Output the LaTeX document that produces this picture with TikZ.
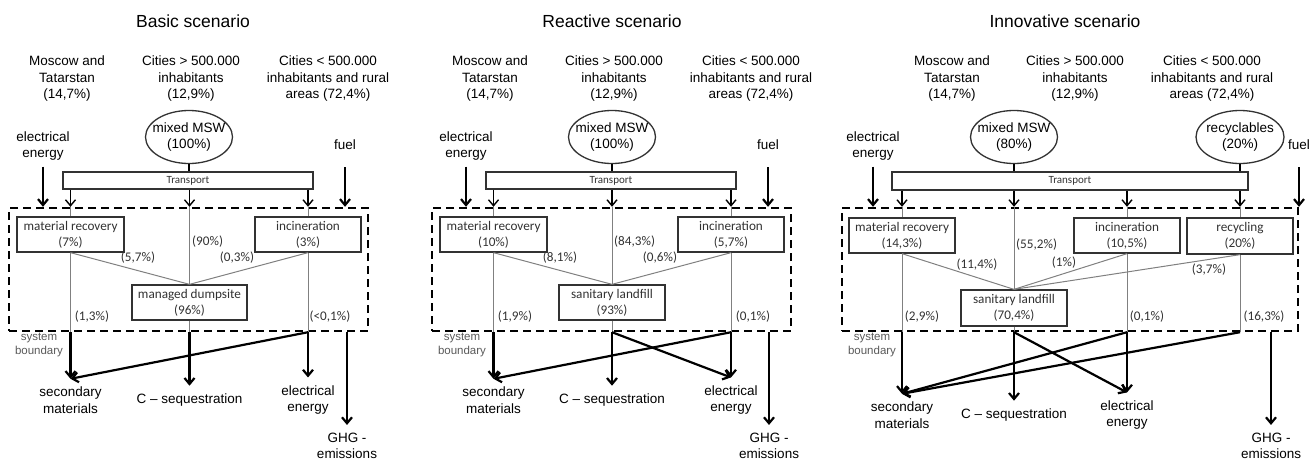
\documentclass[tikz,border=0pt]{standalone}
\usepackage{fontspec}
\setmainfont{Liberation Sans}
\newfontfamily\calibfont{Carlito}
\usepackage{tikz}
\usetikzlibrary{positioning,arrows.meta,shapes.geometric}

\definecolor{boxgray}{RGB}{50,50,50}
\definecolor{linegray}{RGB}{128,128,128}
\definecolor{sbgray}{RGB}{90,90,90}

\begin{document}
\begin{tikzpicture}[x=1pt,y=1pt,yscale=-1,xscale=1,
  every node/.style={inner sep=2pt},
  title/.style={font=\fontsize{17.5}{20}\selectfont},
  lbl/.style={align=center,font=\fontsize{13.5}{16.5}\selectfont},
  outlbl/.style={lbl,outer sep=6pt},
  sysb/.style={align=center,text=sbgray,font=\fontsize{11.5}{14}\selectfont},
  procbox/.style={draw=boxgray,line width=1.3pt,text=boxgray,align=center,minimum height=35pt,font=\calibfont\fontsize{13.2}{16}\selectfont},
  trbox/.style={draw=boxgray,line width=1.3pt,text=boxgray,minimum height=17pt,font=\calibfont\fontsize{11}{13}\selectfont},
  srcell/.style={ellipse,draw=boxgray,line width=1.3pt,minimum width=87pt,minimum height=53pt},
  pct/.style={text=boxgray,inner sep=0pt,font=\calibfont\fontsize{13.2}{16}\selectfont},
  boundary/.style={draw,line width=2.4pt,dash pattern=on 8pt off 5pt},
  flowin/.style={-{Straight Barb[length=6pt,width=10pt,line width=1.4pt]},line width=1.3pt},
  bigarr/.style={-{Straight Barb[length=6pt,width=10pt]},line width=2.2pt},
  thinline/.style={draw=linegray,line width=1pt},
]
\useasboundingbox (0,0) rectangle (1314,463);

%%%%%%%%%% Basic scenario
\node[boundary,minimum width=359pt,minimum height=123pt] (p1bd) at (188.5,269.5) {};

% Text Node
\node[title] (p1ttl) at (193,21) {Basic scenario};
% Text Node
\node[lbl] (p1reg1) at (67,79) {Moscow and\\Tatarstan\\(14,7\%)};
% Text Node
\node[lbl] (p1reg2) at (191,79) {Cities > 500.000\\inhabitants\\(12,9\%)};
% Text Node
\node[lbl] (p1reg3) at (328,79) {Cities < 500.000\\inhabitants and rural\\areas (72,4\%)};
% Text Node
\node[srcell] (p1msw) at (189,137) {};
\node[lbl] (p1mswt) at (p1msw) {mixed MSW\\(100\%)};
% Text Node
\node[lbl] (p1ein) at (43,146) {electrical\\energy};
% Text Node
\node[lbl] (p1fuel) at (345,145) {fuel};
% Text Node
\node[trbox,minimum width=250pt] (p1tr) at (188,180.5) {Transport};
% Text Node
\node[procbox,minimum width=107pt] (p1mr) at (70.5,234.5) {material recovery\\(7\%)};
% Text Node
\node[procbox,minimum width=106pt] (p1in) at (308,234.5) {incineration\\(3\%)};
% Text Node
\node[procbox,minimum width=115pt] (p1dp) at (189.5,302.5) {managed dumpsite\\(96\%)};
% Text Node
\node[pct,anchor=west] (p1l90) at (192,242) {(90\%)};
\node[pct] (p1l57) at (138,258) {(5,7\%)};
\node[pct] (p1l03) at (237,258) {(0,3\%)};
\node[pct] (p1l13) at (92,317) {(1,3\%)};
\node[pct] (p1l01) at (330,317) {(<0,1\%)};
% Text Node
\node[sysb] (p1sys) at (39,345) {system\\boundary};
% Text Node
\node[outlbl] (p1sec) at (70.5,400) {secondary\\materials};
\node[outlbl] (p1cseq) at (189.5,400) {C – sequestration};
\node[outlbl] (p1eout) at (308,400) {electrical\\energy};
\node[outlbl] (p1ghg) at (347,446) {GHG -\\emissions};

%Straight Lines
\draw[bigarr,shorten <=4pt] (p1ein.south) -- (p1ein |- p1bd.north);
\draw[bigarr,shorten <=15pt] (p1fuel.south) -- (p1fuel |- p1bd.north);
\draw[line width=1.4pt] (p1msw.south) -- (p1msw |- p1tr.north);

%Straight Lines
\draw[flowin] (p1tr.south -| p1mr) -- (p1mr |- p1bd.north);
\draw[flowin] (p1tr.south -| p1dp) -- (p1dp |- p1bd.north);
\draw[flowin] (p1tr.south -| p1in) -- (p1in |- p1bd.north);
\draw[thinline] (p1mr |- p1bd.north) -- (p1mr.north);
\draw[thinline] (p1dp |- p1bd.north) -- (p1dp.north);
\draw[thinline] (p1in |- p1bd.north) -- (p1in.north);
\draw[thinline] (p1mr.south) -- (p1dp.north);
\draw[thinline] (p1in.south) -- (p1dp.north);
\draw[thinline] (p1mr.south) -- (p1mr |- p1bd.south);
\draw[thinline] (p1in.south) -- (p1in |- p1bd.south);
\draw[thinline] (p1dp.south) -- (p1dp |- p1bd.south);

%Straight Lines
\draw[bigarr] (p1mr |- p1bd.south) -- (p1sec.north);
\draw[bigarr] (p1dp |- p1bd.south) -- (p1cseq.north);
\draw[bigarr] (p1in |- p1bd.south) -- (p1eout.north);
\draw[bigarr] (p1in |- p1bd.south) -- (p1sec.north);
\draw[bigarr] (p1ghg |- p1bd.south) -- (p1ghg.north);

%%%%%%%%%% Reactive scenario
\node[boundary,minimum width=359pt,minimum height=123pt] (p2bd) at (611.5,269.5) {};

% Text Node
\node[title] (p2ttl) at (612,21) {Reactive scenario};
% Text Node
\node[lbl] (p2reg1) at (490,79) {Moscow and\\Tatarstan\\(14,7\%)};
% Text Node
\node[lbl] (p2reg2) at (614,79) {Cities > 500.000\\inhabitants\\(12,9\%)};
% Text Node
\node[lbl] (p2reg3) at (751,79) {Cities < 500.000\\inhabitants and rural\\areas (72,4\%)};
% Text Node
\node[srcell] (p2msw) at (612,137) {};
\node[lbl] (p2mswt) at (p2msw) {mixed MSW\\(100\%)};
% Text Node
\node[lbl] (p2ein) at (466,146) {electrical\\energy};
% Text Node
\node[lbl] (p2fuel) at (768,145) {fuel};
% Text Node
\node[trbox,minimum width=250pt] (p2tr) at (611,180.5) {Transport};
% Text Node
\node[procbox,minimum width=107pt] (p2mr) at (493.5,234.5) {material recovery\\(10\%)};
% Text Node
\node[procbox,minimum width=106pt] (p2in) at (731,234.5) {incineration\\(5,7\%)};
% Text Node
\node[procbox,minimum width=106pt] (p2lf) at (612,302.5) {sanitary landfill\\(93\%)};
% Text Node
\node[pct,anchor=west] (p2l843) at (614,242) {(84,3\%)};
\node[pct] (p2l81) at (560,258) {(8,1\%)};
\node[pct] (p2l06) at (660,258) {(0,6\%)};
\node[pct] (p2l19) at (515,317) {(1,9\%)};
\node[pct] (p2l01) at (753,317) {(0,1\%)};
% Text Node
\node[sysb] (p2sys) at (462,345) {system\\boundary};
% Text Node
\node[outlbl] (p2sec) at (493.5,400) {secondary\\materials};
\node[outlbl] (p2cseq) at (612,400) {C – sequestration};
\node[outlbl] (p2eout) at (731,400) {electrical\\energy};
\node[outlbl] (p2ghg) at (769,446) {GHG -\\emissions};

%Straight Lines
\draw[bigarr,shorten <=4pt] (p2ein.south) -- (p2ein |- p2bd.north);
\draw[bigarr,shorten <=15pt] (p2fuel.south) -- (p2fuel |- p2bd.north);
\draw[line width=1.4pt] (p2msw.south) -- (p2msw |- p2tr.north);

%Straight Lines
\draw[flowin] (p2tr.south -| p2mr) -- (p2mr |- p2bd.north);
\draw[flowin] (p2tr.south -| p2lf) -- (p2lf |- p2bd.north);
\draw[flowin] (p2tr.south -| p2in) -- (p2in |- p2bd.north);
\draw[thinline] (p2mr |- p2bd.north) -- (p2mr.north);
\draw[thinline] (p2lf |- p2bd.north) -- (p2lf.north);
\draw[thinline] (p2in |- p2bd.north) -- (p2in.north);
\draw[thinline] (p2mr.south) -- (p2lf.north);
\draw[thinline] (p2in.south) -- (p2lf.north);
\draw[thinline] (p2mr.south) -- (p2mr |- p2bd.south);
\draw[thinline] (p2in.south) -- (p2in |- p2bd.south);
\draw[thinline] (p2lf.south) -- (p2lf |- p2bd.south);

%Straight Lines
\draw[bigarr] (p2mr |- p2bd.south) -- (p2sec.north);
\draw[bigarr] (p2lf |- p2bd.south) -- (p2cseq.north);
\draw[bigarr] (p2in |- p2bd.south) -- (p2eout.north);
\draw[bigarr] (p2in |- p2bd.south) -- (p2sec.north);
\draw[bigarr] (p2lf |- p2bd.south) -- (p2eout.north);
\draw[bigarr] (p2ghg |- p2bd.south) -- (p2ghg.north);

%%%%%%%%%% Innovative scenario
\node[boundary,minimum width=456pt,minimum height=123pt] (p3bd) at (1070,269.5) {};

% Text Node
\node[title] (p3ttl) at (1065,21) {Innovative scenario};
% Text Node
\node[lbl] (p3reg1) at (952,79) {Moscow and\\Tatarstan\\(14,7\%)};
% Text Node
\node[lbl] (p3reg2) at (1075,79) {Cities > 500.000\\inhabitants\\(12,9\%)};
% Text Node
\node[lbl] (p3reg3) at (1212,79) {Cities < 500.000\\inhabitants and rural\\areas (72,4\%)};
% Text Node
\node[srcell] (p3msw) at (1014,137) {};
\node[lbl] (p3mswt) at (p3msw) {mixed MSW\\(80\%)};
\node[srcell,minimum width=88pt] (p3rcy) at (1240,137) {};
\node[lbl] (p3rcyt) at (p3rcy) {recyclables\\(20\%)};
% Text Node
\node[lbl] (p3ein) at (873,146) {electrical\\energy};
% Text Node
\node[lbl] (p3fuel) at (1299,145) {fuel};
% Text Node
\node[trbox,minimum width=356pt,minimum height=18pt] (p3tr) at (1070,181) {Transport};
% Text Node
\node[procbox,minimum width=106pt] (p3mr) at (902,235.5) {material recovery\\(14,3\%)};
% Text Node
\node[procbox,minimum width=106pt] (p3in) at (1127,235.5) {incineration\\(10,5\%)};
% Text Node
\node[procbox,minimum width=106pt,minimum height=36pt] (p3rc) at (1240,236) {recycling\\(20\%)};
% Text Node
\node[procbox,minimum width=106pt,minimum height=36pt] (p3lf) at (1014,308) {sanitary landfill\\(70,4\%)};
% Text Node
\node[pct,anchor=west] (p3l552) at (1016,245) {(55,2\%)};
\node[pct] (p3l114) at (977,265) {(11,4\%)};
\node[pct] (p3l1) at (1064,263) {(1\%)};
\node[pct] (p3l37) at (1209,270) {(3,7\%)};
\node[pct] (p3l29) at (922,317) {(2,9\%)};
\node[pct] (p3l01) at (1147,317) {(0,1\%)};
\node[pct] (p3l163) at (1264,317) {(16,3\%)};
% Text Node
\node[sysb] (p3sys) at (872,345) {system\\boundary};
% Text Node
\node[outlbl] (p3sec) at (902,415) {secondary\\materials};
\node[outlbl] (p3cseq) at (1014,415) {C – sequestration};
\node[outlbl] (p3eout) at (1127,415) {electrical\\energy};
\node[outlbl] (p3ghg) at (1271,446) {GHG -\\emissions};

%Straight Lines
\draw[bigarr,shorten <=4pt] (p3ein.south) -- (p3ein |- p3bd.north);
\draw[bigarr,shorten <=15pt] (p3fuel.south) -- (p3fuel |- p3bd.north);
\draw[line width=1.4pt] (p3msw.south) -- (p3msw |- p3tr.north);
\draw[line width=1.4pt] (p3rcy.south) -- (p3rcy |- p3tr.north);

%Straight Lines
\draw[flowin] (p3tr.south -| p3mr) -- (p3mr |- p3bd.north);
\draw[flowin] (p3tr.south -| p3lf) -- (p3lf |- p3bd.north);
\draw[flowin] (p3tr.south -| p3in) -- (p3in |- p3bd.north);
\draw[flowin] (p3tr.south -| p3rc) -- (p3rc |- p3bd.north);
\draw[thinline] (p3mr |- p3bd.north) -- (p3mr.north);
\draw[thinline] (p3lf |- p3bd.north) -- (p3lf.north);
\draw[thinline] (p3in |- p3bd.north) -- (p3in.north);
\draw[thinline] (p3rc |- p3bd.north) -- (p3rc.north);
\draw[thinline] (p3mr.south) -- (p3lf.north);
\draw[thinline] (p3in.south) -- (p3lf.north);
\draw[thinline] (p3rc.south) -- (p3lf.north);
\draw[thinline] (p3mr.south) -- (p3mr |- p3bd.south);
\draw[thinline] (p3in.south) -- (p3in |- p3bd.south);
\draw[thinline] (p3rc.south) -- (p3rc |- p3bd.south);
\draw[thinline] (p3lf.south) -- (p3lf |- p3bd.south);

%Straight Lines
\draw[bigarr] (p3mr |- p3bd.south) -- (p3sec.north);
\draw[bigarr] (p3lf |- p3bd.south) -- (p3cseq.north);
\draw[bigarr] (p3in |- p3bd.south) -- (p3eout.north);
\draw[bigarr] (p3in |- p3bd.south) -- (p3sec.north);
\draw[bigarr] (p3rc |- p3bd.south) -- (p3sec.north);
\draw[bigarr] (p3lf |- p3bd.south) -- (p3eout.north);
\draw[bigarr] (p3ghg |- p3bd.south) -- (p3ghg.north);

\end{tikzpicture}
\end{document}
